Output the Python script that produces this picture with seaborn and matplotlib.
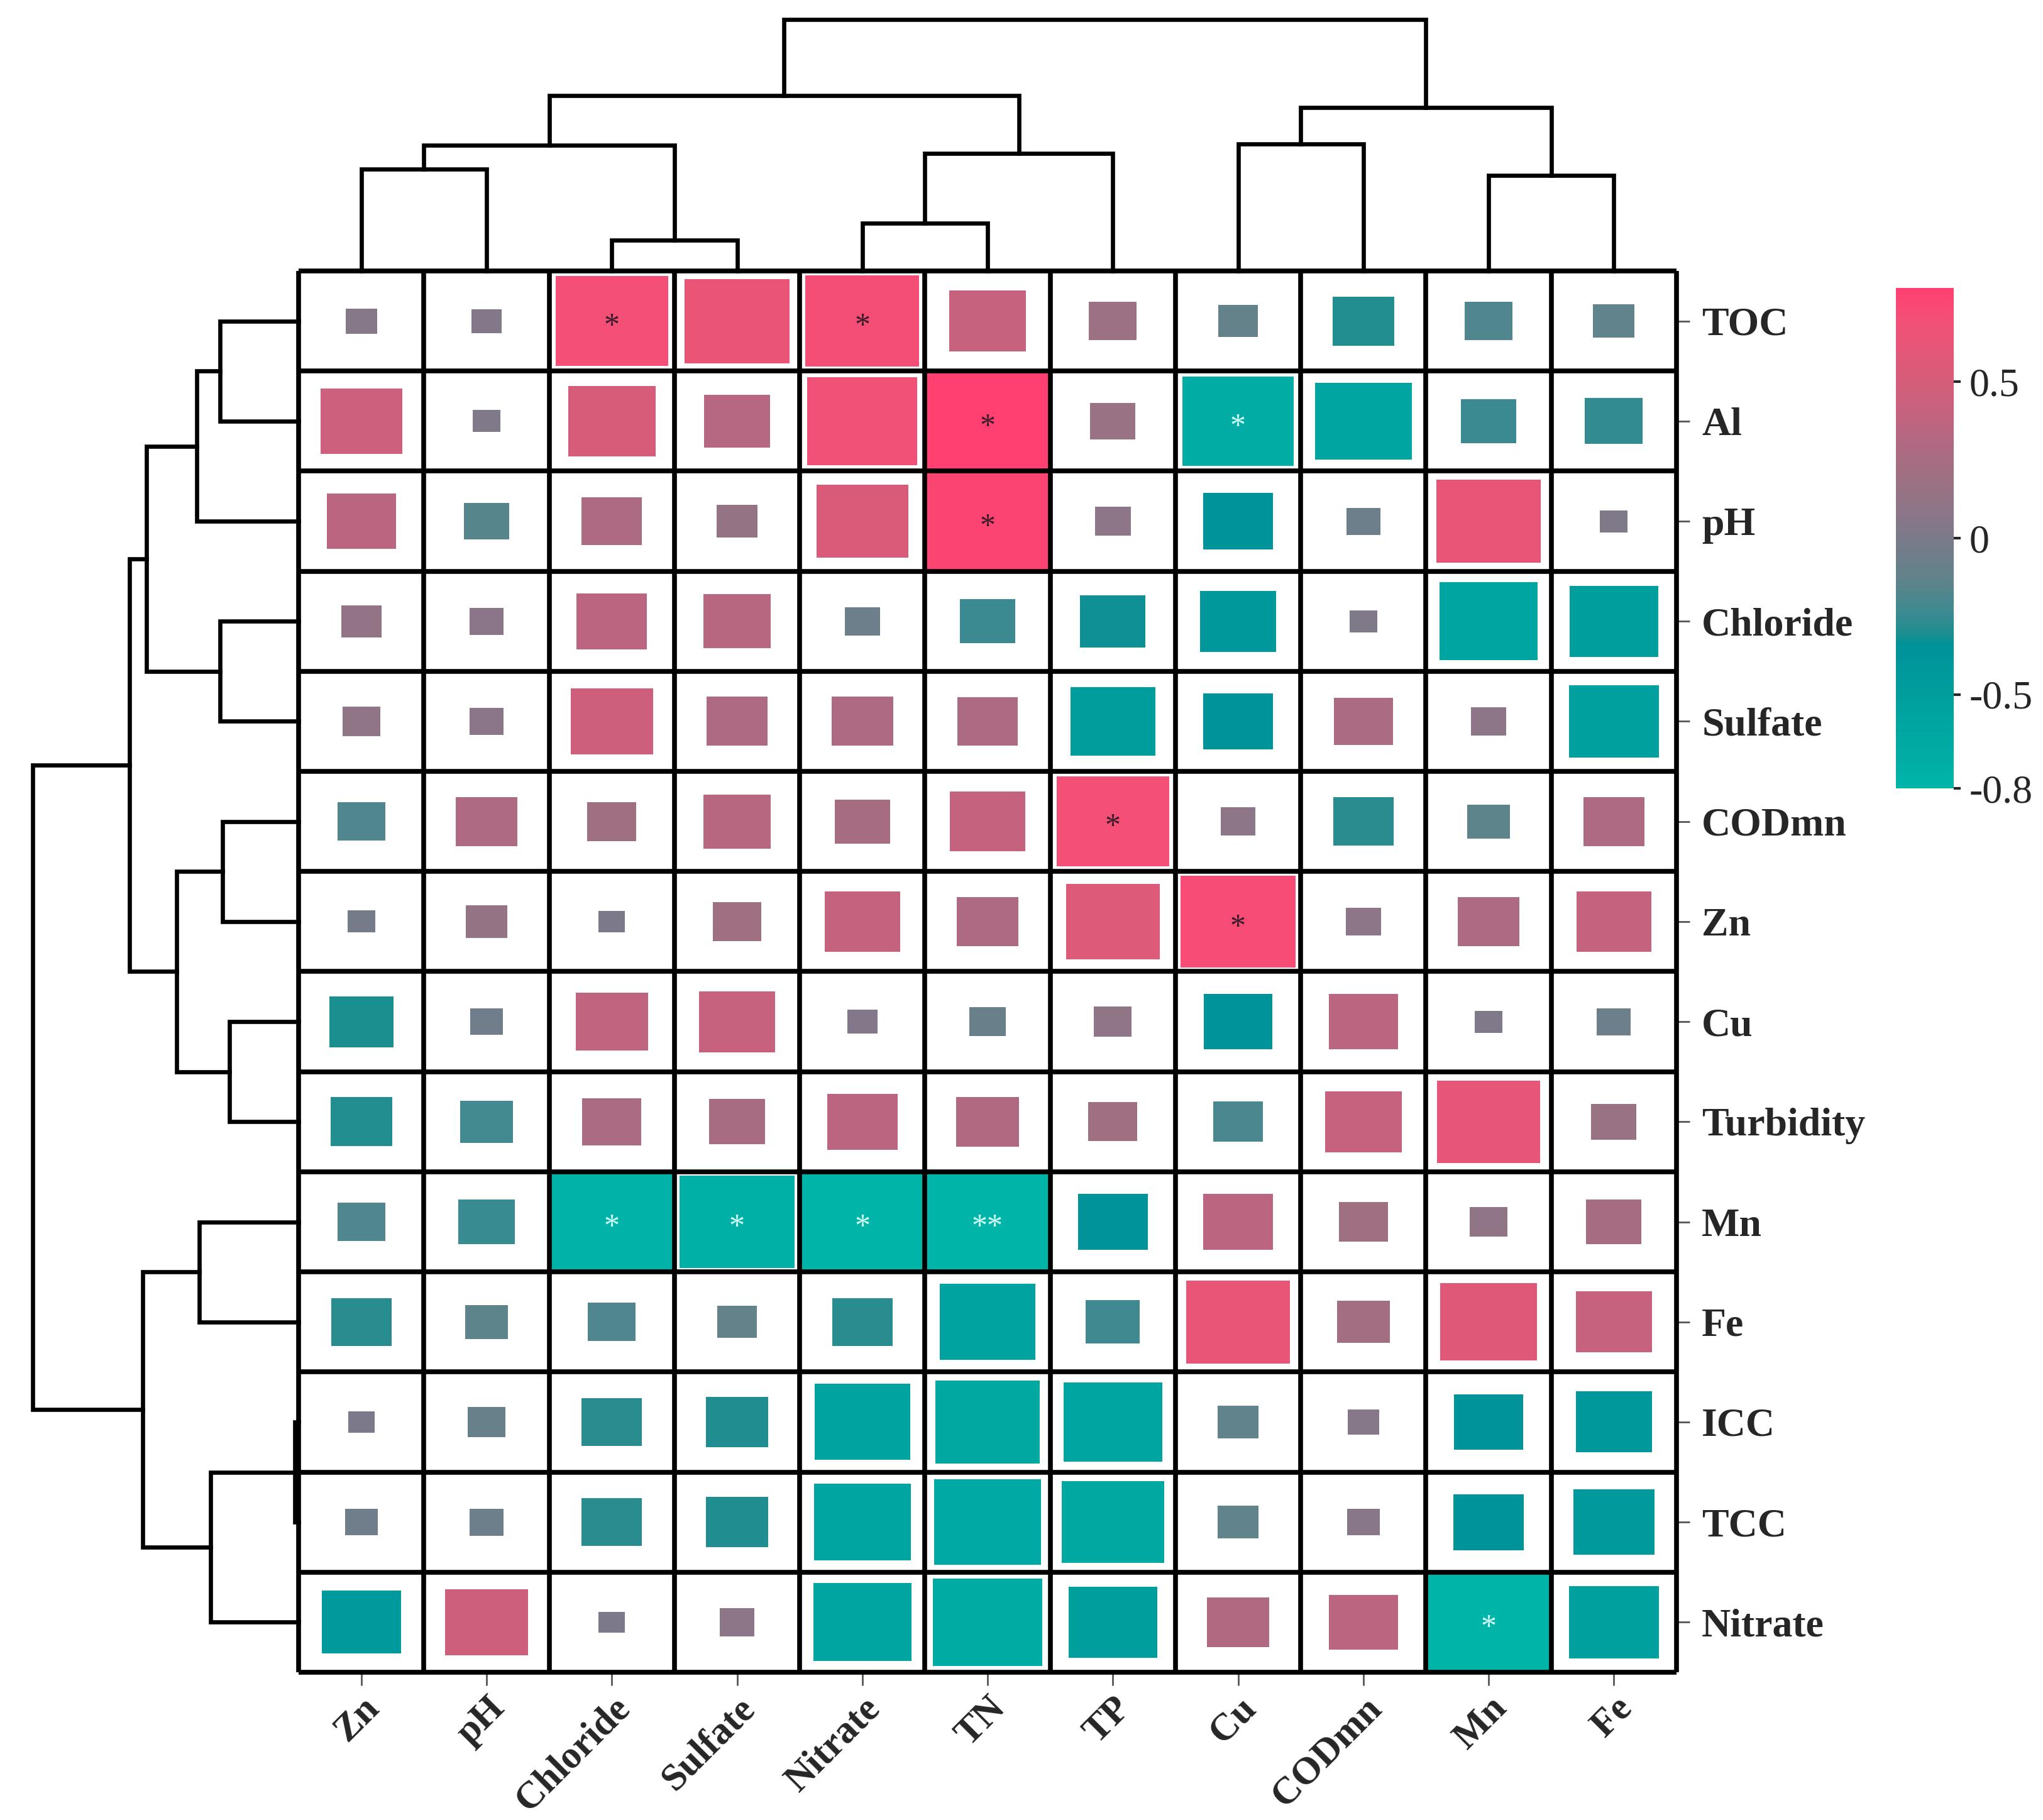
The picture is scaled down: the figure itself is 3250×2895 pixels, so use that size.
import numpy as np
import pandas as pd
import matplotlib
matplotlib.use("Agg")
import matplotlib.pyplot as plt
import seaborn as sns
from matplotlib.colors import LinearSegmentedColormap, ListedColormap, Normalize
from matplotlib.patches import Rectangle
from matplotlib.cm import ScalarMappable

# ---------------- data ----------------
rows = ["TOC", "Al", "pH", "Chloride", "Sulfate", "CODmn", "Zn", "Cu",
        "Turbidity", "Mn", "Fe", "ICC", "TCC", "Nitrate"]
cols = ["Zn", "pH", "Chloride", "Sulfate", "Nitrate", "TN", "TP", "Cu",
        "CODmn", "Mn", "Fe"]

r_TOC       = [0.05, 0.04, 0.70, 0.64, 0.71, 0.41, 0.18, -0.12, -0.29, -0.18, -0.13]
r_Al        = [0.45, 0.02, 0.50, 0.33, 0.68, 0.80, 0.16, -0.69, -0.57, -0.24, -0.26]
r_pH        = [0.35, -0.16, 0.28, 0.13, 0.53, 0.77, 0.085, -0.36, -0.07, 0.63, 0.02]
r_Chloride  = [0.12, 0.07, 0.36, 0.34, -0.08, -0.24, -0.32, -0.41, 0.02, -0.58, -0.51]
r_Sulfate   = [0.10, 0.07, 0.46, 0.29, 0.29, 0.28, -0.48, -0.36, 0.27, 0.08, -0.52]
r_CODmn     = [-0.18, 0.29, 0.19, 0.34, 0.24, 0.40, 0.70, 0.08, -0.28, -0.14, 0.29]
r_Zn        = [-0.02, 0.13, 0.01, 0.19, 0.40, 0.29, 0.55, 0.72, 0.08, 0.29, 0.40]
r_Cu        = [-0.31, -0.06, 0.38, 0.41, 0.04, -0.09, 0.10, -0.35, 0.35, 0.02, -0.07]
r_Turbidity = [-0.29, -0.22, 0.27, 0.25, 0.36, 0.30, 0.19, -0.20, 0.41, 0.62, 0.16]
r_Mn        = [-0.18, -0.25, -0.77, -0.72, -0.80, -0.80, -0.36, 0.36, 0.19, 0.10, 0.24]
r_Fe        = [-0.28, -0.14, -0.18, -0.12, -0.28, -0.56, -0.23, 0.63, 0.22, 0.57, 0.41]
r_ICC       = [0.01, -0.10, -0.28, -0.30, -0.56, -0.63, -0.59, -0.13, 0.05, -0.35, -0.41]
r_TCC       = [-0.06, -0.07, -0.28, -0.30, -0.57, -0.65, -0.62, -0.13, 0.06, -0.36, -0.45]
r_Nitrate   = [-0.43, 0.46, 0.01, 0.08, -0.58, -0.67, -0.51, 0.30, 0.35, -0.80, -0.52]

sig_marks = [("TOC", "Chloride", "*"), ("TOC", "Nitrate", "*"), ("Al", "TN", "*"),
             ("Al", "Cu", "*"), ("pH", "TN", "*"), ("CODmn", "TP", "*"),
             ("Zn", "Cu", "*"), ("Mn", "Chloride", "*"), ("Mn", "Sulfate", "*"),
             ("Mn", "Nitrate", "*"), ("Mn", "TN", "**"), ("Nitrate", "Mn", "*")]

# dendrogram merges: (child a, child b, height); leaves are 0..n-1
col_links = [(2, 3, 23.5), (4, 5, 36.5), (9, 10, 73), (0, 1, 78), (12, 6, 90),
             (14, 11, 96), (7, 8, 97), (17, 13, 125), (16, 15, 134), (19, 18, 192)]
row_links = [(11, 12, 3), (7, 8, 53), (5, 6, 58), (0, 1, 60), (3, 4, 60),
             (14, 13, 67), (9, 10, 76), (17, 2, 78), (16, 15, 93), (21, 18, 116),
             (20, 19, 119), (23, 22, 129), (25, 24, 203)]

cbar_ticks = [-0.8, -0.5, 0, 0.5]
cbar_ticklabels = ["-0.8", "-0.5", "0", "0.5"]

# ---------------- styling ----------------
sns.set_style("white")
SERIF = ["Liberation Serif", "DejaVu Serif"]
plt.rcParams["font.family"] = SERIF

vmin, vmax = -0.8, 0.8
stops = [(-0.8, "#00B4A8"), (-0.63, "#00A8A2"), (-0.5, "#009E9D"), (-0.4, "#00979B"),
         (-0.34, "#00929A"), (-0.31, "#1A8F90"), (-0.24, "#3C8A91"), (-0.12, "#64828A"),
         (0.0, "#7A7A8A"), (0.08, "#8C7688"), (0.19, "#9E7082"), (0.29, "#AE6A82"),
         (0.40, "#C4637F"), (0.55, "#DC5A78"), (0.70, "#F35077"), (0.8, "#FF4070")]
cmap = LinearSegmentedColormap.from_list(
    "tealpink", [((v - vmin) / (vmax - vmin), c) for v, c in stops])
norm = Normalize(vmin, vmax)

data = pd.DataFrame([r_TOC, r_Al, r_pH, r_Chloride, r_Sulfate, r_CODmn, r_Zn, r_Cu,
                     r_Turbidity, r_Mn, r_Fe, r_ICC, r_TCC, r_Nitrate],
                    index=rows, columns=cols)

fig = plt.figure(figsize=(32.5, 28.95), dpi=100)

# heatmap
hx0, hy0, hw, hh = 0.1462, 0.0812, 0.6744, 0.7699
ax = fig.add_axes([hx0, hy0, hw, hh])
sns.heatmap(data, cmap=ListedColormap(["white"]), cbar=False, ax=ax,
            linewidths=0, square=False)

nr, nc = data.shape
for i, rname in enumerate(rows):
    for j, cname in enumerate(cols):
        v = data.loc[rname, cname]
        s = min(1.0, 0.2 + abs(v))
        ax.add_patch(Rectangle((j + 0.5 - s / 2, i + 0.5 - s / 2), s, s,
                               facecolor=cmap(norm(v)), edgecolor="none", zorder=2))

for rname, cname, mark in sig_marks:
    i, j = rows.index(rname), cols.index(cname)
    v = data.loc[rname, cname]
    ax.text(j + 0.5, i + 0.56, mark, ha="center", va="center", fontsize=36,
            color="#3A1C2A" if v > 0 else "#CFFFFA", zorder=4)

ax.hlines(np.arange(nr + 1), 0, nc, color="black", lw=5.5, zorder=3, clip_on=False)
ax.vlines(np.arange(nc + 1), 0, nr, color="black", lw=5.5, zorder=3, clip_on=False)
ax.set_xlim(0, nc)
ax.set_ylim(nr, 0)
ax.set_xlabel("")
ax.set_ylabel("")

ax.yaxis.tick_right()
ax.set_yticks(np.arange(nr) + 0.5)
ax.set_yticklabels(rows, rotation=0, fontsize=46, fontweight="bold", family=SERIF)
ax.set_xticks(np.arange(nc) + 0.5)
ax.set_xticklabels(cols, rotation=45, ha="right", rotation_mode="anchor",
                   fontsize=44, fontweight="bold", family=SERIF)
ax.tick_params(axis="y", right=True, left=False, length=15, width=2,
               color="#555555", pad=14)
ax.tick_params(axis="x", bottom=True, length=15, width=2, color="#555555", pad=6)
for sp in ax.spines.values():
    sp.set_visible(False)


def draw_dendro(axd, links, n, orient):
    pos = {k: k + 0.5 for k in range(n)}
    hgt = {k: 0.0 for k in range(n)}
    node = n
    for a, b, h in links:
        pa, pb = pos[a], pos[b]
        xs = [pa, pa, pb, pb]
        ys = [hgt[a], h, h, hgt[b]]
        if orient == "top":
            axd.plot(xs, ys, color="black", lw=4.8, clip_on=False,
                     solid_capstyle="projecting", solid_joinstyle="miter")
        else:
            axd.plot(ys, xs, color="black", lw=4.8, clip_on=False,
                     solid_capstyle="projecting", solid_joinstyle="miter")
        pos[node] = (pa + pb) / 2
        hgt[node] = h
        node += 1
    return hgt[node - 1]


# top dendrogram
axt = fig.add_axes([hx0, hy0 + hh, hw, 0.9893 - (hy0 + hh)])
top_h = draw_dendro(axt, col_links, nc, "top")
axt.set_xlim(0, nc)
axt.set_ylim(0, top_h)
axt.axis("off")

# left dendrogram
axl = fig.add_axes([0.016, hy0, hx0 - 0.016, hh])
left_h = draw_dendro(axl, row_links, nr, "left")
axl.set_ylim(nr, 0)
axl.set_xlim(left_h, 0)
axl.axis("off")

# colorbar
cax = fig.add_axes([0.928, 0.5668, 0.0283, 0.275])
sm = ScalarMappable(norm=norm, cmap=cmap)
cb = fig.colorbar(sm, cax=cax)
cb.outline.set_visible(False)
cb.set_ticks(cbar_ticks)
cb.set_ticklabels(cbar_ticklabels)
cax.tick_params(length=8, width=3, labelsize=46, pad=10)
for t in cax.get_yticklabels():
    t.set_family(SERIF)

fig.savefig("out.png", dpi=100, facecolor="white")
